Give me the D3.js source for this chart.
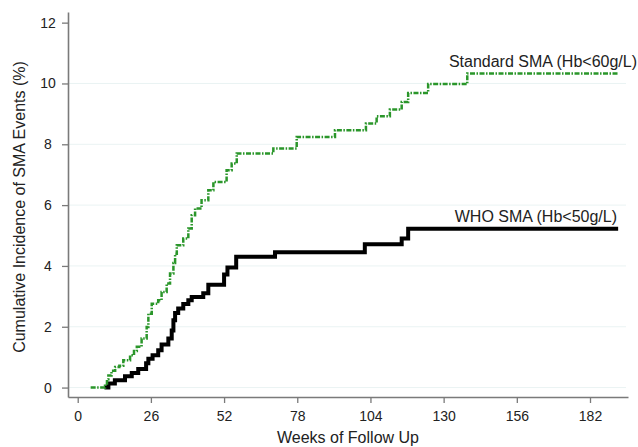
<!DOCTYPE html>
<html><head><meta charset="utf-8">
<script src="https://cdn.jsdelivr.net/npm/d3@7"></script>
<style>
body{margin:0;background:#fff}
text{font-family:"Liberation Sans",Arial,Helvetica,sans-serif}
</style>
</head><body>
<svg id="c" width="638" height="447"></svg>
<script>
// ---- data ----
const xTicks = [0, 26, 52, 78, 104, 130, 156, 182];
const yTicks = [0, 2, 4, 6, 8, 10, 12];
const gridTicks = [0, 2, 4, 6, 8, 10];

const whoWeeks  = [9.5, 10.9, 13.2, 16.8, 19.2, 21.5, 24.3, 25.1, 26.6, 28.6, 29.8, 32.2, 33.4, 34.0, 34.6, 35.7, 37.5, 39.3, 40.5, 44.6, 46.4, 52.0, 53.2, 56.3, 70.1, 102.0, 115.1, 117.4];
const whoValues = [0, 0.13, 0.24, 0.37, 0.48, 0.61, 0.80, 0.95, 1.06, 1.23, 1.42, 1.61, 1.88, 2.21, 2.45, 2.60, 2.75, 2.87, 2.98, 3.10, 3.38, 3.72, 3.95, 4.30, 4.45, 4.71, 4.90, 5.22];

const stdWeeks  = [4.6, 9.7, 10.4, 10.9, 12.0, 13.3, 14.8, 16.2, 18.6, 20.0, 21.0, 22.7, 24.5, 25.1, 26.3, 28.6, 29.8, 31.6, 32.8, 34.0, 34.6, 35.2, 37.5, 39.3, 40.5, 41.7, 44.0, 46.4, 48.2, 52.9, 54.7, 56.5, 69.5, 77.8, 91.4, 102.4, 106.2, 110.9, 115.1, 117.4, 124.5, 138.4];
const stdValues = [0, 0.13, 0.27, 0.40, 0.55, 0.68, 0.72, 0.90, 1.06, 1.20, 1.34, 1.61, 1.99, 2.43, 2.76, 2.87, 3.14, 3.42, 3.75, 4.10, 4.40, 4.68, 4.90, 5.23, 5.67, 5.89, 6.16, 6.49, 6.76, 7.15, 7.37, 7.70, 7.86, 8.24, 8.46, 8.68, 8.92, 9.14, 9.39, 9.69, 9.98, 10.33];

const followEnd = 192;
const stdLabel = "Standard SMA (Hb<60g/L)";
const whoLabel = "WHO SMA (Hb<50g/L)";
const xTitle = "Weeks of Follow Up";
const yTitle = "Cumulative Incidence of SMA Events (%)";

// ---- layout ----
const pLeft = 68, pRight = 628, pTop = 12, pBottom = 397;
const svg = d3.select("#c");
const x = d3.scaleLinear().domain([-3.45, 195.5]).range([pLeft, pRight]);
const y = d3.scaleLinear().domain([-0.31, 12.35]).range([pBottom, pTop]);

// faint gridlines
svg.append("g").selectAll("line").data(gridTicks).join("line")
  .attr("x1", pLeft).attr("x2", pRight - 2)
  .attr("y1", d => y(d)).attr("y2", d => y(d))
  .attr("stroke", "#eaf3f3").attr("stroke-width", 1);

// axes
const xAxis = svg.append("g").attr("transform", `translate(0,${pBottom})`)
  .call(d3.axisBottom(x).tickValues(xTicks).tickSize(6).tickSizeOuter(0).tickPadding(8));
const yAxis = svg.append("g").attr("transform", `translate(${pLeft},0)`)
  .call(d3.axisLeft(y).tickValues(yTicks).tickSize(6).tickSizeOuter(0).tickPadding(8));
[xAxis, yAxis].forEach(a => {
  a.select(".domain").attr("stroke", "#7a7a7a").attr("stroke-width", 1.6);
  a.selectAll(".tick line").attr("stroke", "#7a7a7a").attr("stroke-width", 1.3);
  a.selectAll(".tick text").attr("fill", "#222").style("font-size", "14px")
    .style("font-family", '"Liberation Sans", Arial, sans-serif');
});
yAxis.selectAll(".tick text").attr("text-anchor", "middle").attr("x", -20);

// step lines
function stepData(weeks, vals) {
  const d = weeks.map((w, i) => [w, vals[i]]);
  d.push([followEnd, vals[vals.length - 1]]);
  return d;
}
const line = d3.line().x(d => x(d[0])).y(d => y(d[1])).curve(d3.curveStepAfter);

svg.append("path").datum(stepData(whoWeeks, whoValues))
  .attr("d", line).attr("fill", "none").attr("stroke", "#000")
  .attr("stroke-width", 4).attr("stroke-linejoin", "miter");

svg.append("path").datum(stepData(stdWeeks, stdValues))
  .attr("d", line).attr("fill", "none").attr("stroke", "#2a962a")
  .attr("stroke-width", 2.5).attr("stroke-dasharray", "5,1.5,1.5,1.5");

// labels
svg.append("text").attr("x", 637).attr("y", 67).attr("text-anchor", "end")
  .attr("fill", "#222").style("font-size", "16px").text(stdLabel);
svg.append("text").attr("x", 617).attr("y", 222).attr("text-anchor", "end")
  .attr("fill", "#222").style("font-size", "16px").text(whoLabel);

// axis titles
svg.append("text").attr("x", 348).attr("y", 443).attr("text-anchor", "middle")
  .attr("fill", "#222").style("font-size", "16px").text(xTitle);
svg.append("text").attr("transform", "translate(25,207) rotate(-90)")
  .attr("text-anchor", "middle").attr("fill", "#222").style("font-size", "16px").text(yTitle);
</script>
</body></html>
